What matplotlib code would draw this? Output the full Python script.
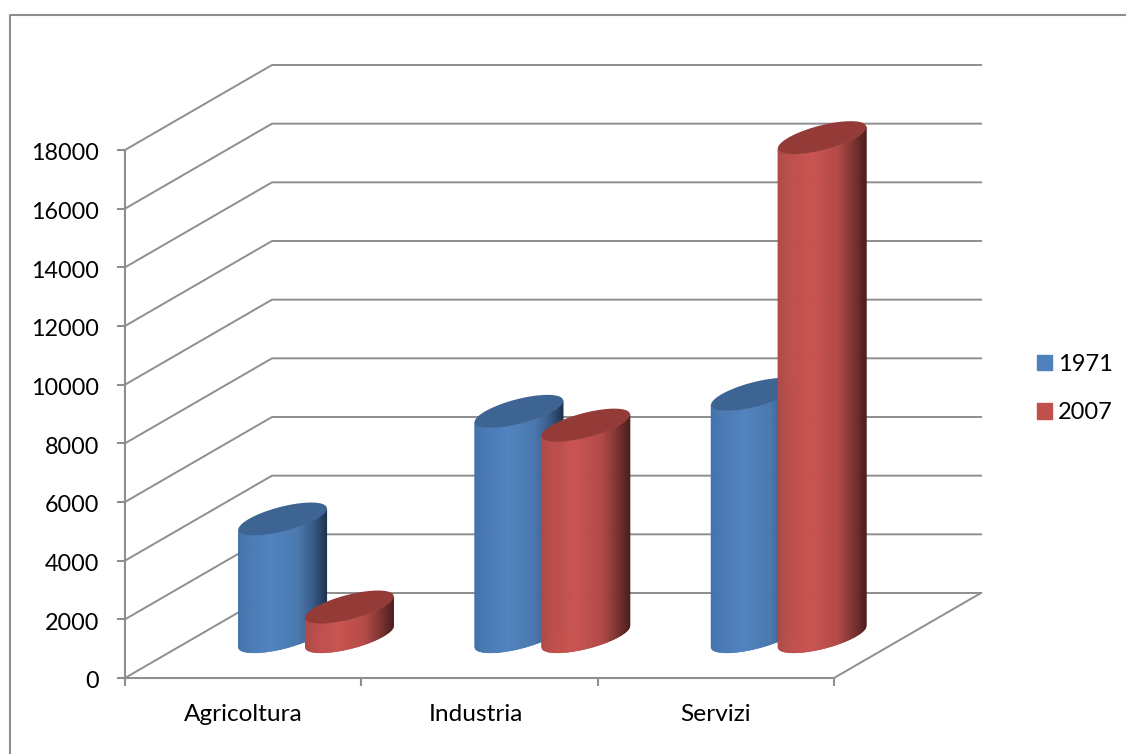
import numpy as np
import matplotlib
matplotlib.use("Agg")
import matplotlib.pyplot as plt
from matplotlib.collections import PolyCollection
from matplotlib.colors import LinearSegmentedColormap
from matplotlib.lines import Line2D
from matplotlib.patches import Patch, Polygon
from matplotlib.transforms import ScaledTranslation

plt.rcParams["font.family"] = ["Lato", "DejaVu Sans"]

categories = ["Agricoltura", "Industria", "Servizi"]
years = ["1971", "2007"]
values_1971 = [4000, 7670, 8250]
values_2007 = [1000, 7200, 17000]
y_ticks = list(range(0, 18001, 2000))

GRID = "#8e8e8e"
W, H = 1126, 754

# oblique depth of the 3d box, in data units per unit of depth
DEPTH_X = 0.622
DEPTH_Y = 2898

blue_cmap = LinearSegmentedColormap.from_list("b", [(0, "#4272ab"), (0.12, "#4a7ab4"), (0.38, "#5083c0"),
                                                    (0.68, "#4a78ae"), (0.85, "#385b87"), (1, "#1e3350")])
red_cmap = LinearSegmentedColormap.from_list("r", [(0, "#ae4a47"), (0.12, "#bc4f4c"), (0.38, "#c95450"),
                                                   (0.68, "#b34a47"), (0.85, "#7f3533"), (1, "#4c1d1b")])


def project(x, v, d):
    return x + d*DEPTH_X, v + d*DEPTH_Y


def cylinder(ax, x, value, cmap, top_color, z):
    # circle of the base in the (x, depth) plane, seen obliquely
    a, rd, d0 = 0.143, 0.194, 0.49
    t0 = np.arctan2(rd*DEPTH_X, a)
    frac = np.linspace(0, 1, 141)
    t = t0 - np.arccos(2*frac - 1)  # front half, left silhouette to right silhouette
    bx, by = project(x + a*np.cos(t), 0, d0 + rd*np.sin(t))
    tx, ty = project(x + a*np.cos(t), value, d0 + rd*np.sin(t))
    quads = [[(bx[i], by[i]), (bx[i+1], by[i+1]), (tx[i+1], ty[i+1]), (tx[i], ty[i])] for i in range(len(t)-1)]
    colors = cmap((frac[:-1] + frac[1:])/2)
    ax.add_collection(PolyCollection(quads, facecolors=colors, edgecolors=colors, linewidths=0.4,
                                     clip_on=False, zorder=z))
    s = np.linspace(0, 2*np.pi, 200)
    ex, ey = project(x + a*np.cos(s), value, d0 + rd*np.sin(s))
    ax.add_patch(Polygon(np.column_stack([ex, ey]), closed=True, facecolor=top_color, edgecolor="none",
                         clip_on=False, zorder=z + 0.5))


fig = plt.figure(figsize=(W/100, H/100), dpi=100)
ax = fig.add_axes([125/W, (H-678)/H, 709/W, 528/H])
ax.set_xlim(0, 3)
ax.set_ylim(0, 18000)

# outer chart border, cut by the page on the right and bottom
fig.add_artist(Line2D([10/W, 10/W, 1], [0, 1-15/H, 1-15/H], color=GRID, lw=1.5))

# walls and floor
for v in y_ticks:
    bx, by = project(0, v, 1)
    ex, ey = project(3, v, 1)
    ax.plot([0, bx, ex], [v, by, ey], color=GRID, lw=1.4, clip_on=False, zorder=1)
ex, ey = project(3, 0, 1)
ax.plot([3, ex], [0, ey], color=GRID, lw=1.4, clip_on=False, zorder=1)

for i in range(len(categories)):
    cylinder(ax, i + 0.362, values_1971[i], blue_cmap, "#3d6493", 3 + i)
    cylinder(ax, i + 0.645, values_2007[i], red_cmap, "#943b38", 3.7 + i)

for side in ["top", "right"]:
    ax.spines[side].set_visible(False)
for side in ["left", "bottom"]:
    ax.spines[side].set_color(GRID)
    ax.spines[side].set_linewidth(1.5)
ax.set_yticks(y_ticks)
ax.set_xticks([0, 1, 2, 3])
ax.set_xticklabels([])
ax.set_xticks([0.5, 1.485, 2.5], minor=True)
ax.set_xticklabels(categories, minor=True, fontsize=17.6)
ax.tick_params(axis="y", labelsize=16.8, length=5.8, width=1.5, color=GRID, pad=12.7)
ax.tick_params(axis="x", which="major", length=5.8, width=1.5, color=GRID)
ax.tick_params(axis="x", which="minor", length=0, pad=18.5)

# y labels sit a little under their ticks in the original
shift = ScaledTranslation(0, -2/100, fig.dpi_scale_trans)
for lab in ax.get_yticklabels():
    lab.set_transform(lab.get_transform() + shift)

handles = [Patch(color="#4f81bd", label=years[0]), Patch(color="#c0504d", label=years[1])]
fig.legend(handles=handles, loc="center left", bbox_to_anchor=(1037/W, 1-388.5/H), frameon=False,
           fontsize=17, handlelength=0.635, handleheight=0.635, handletextpad=0.27, labelspacing=1.17,
           borderpad=0, borderaxespad=0)

fig.savefig("out.png", dpi=100)
